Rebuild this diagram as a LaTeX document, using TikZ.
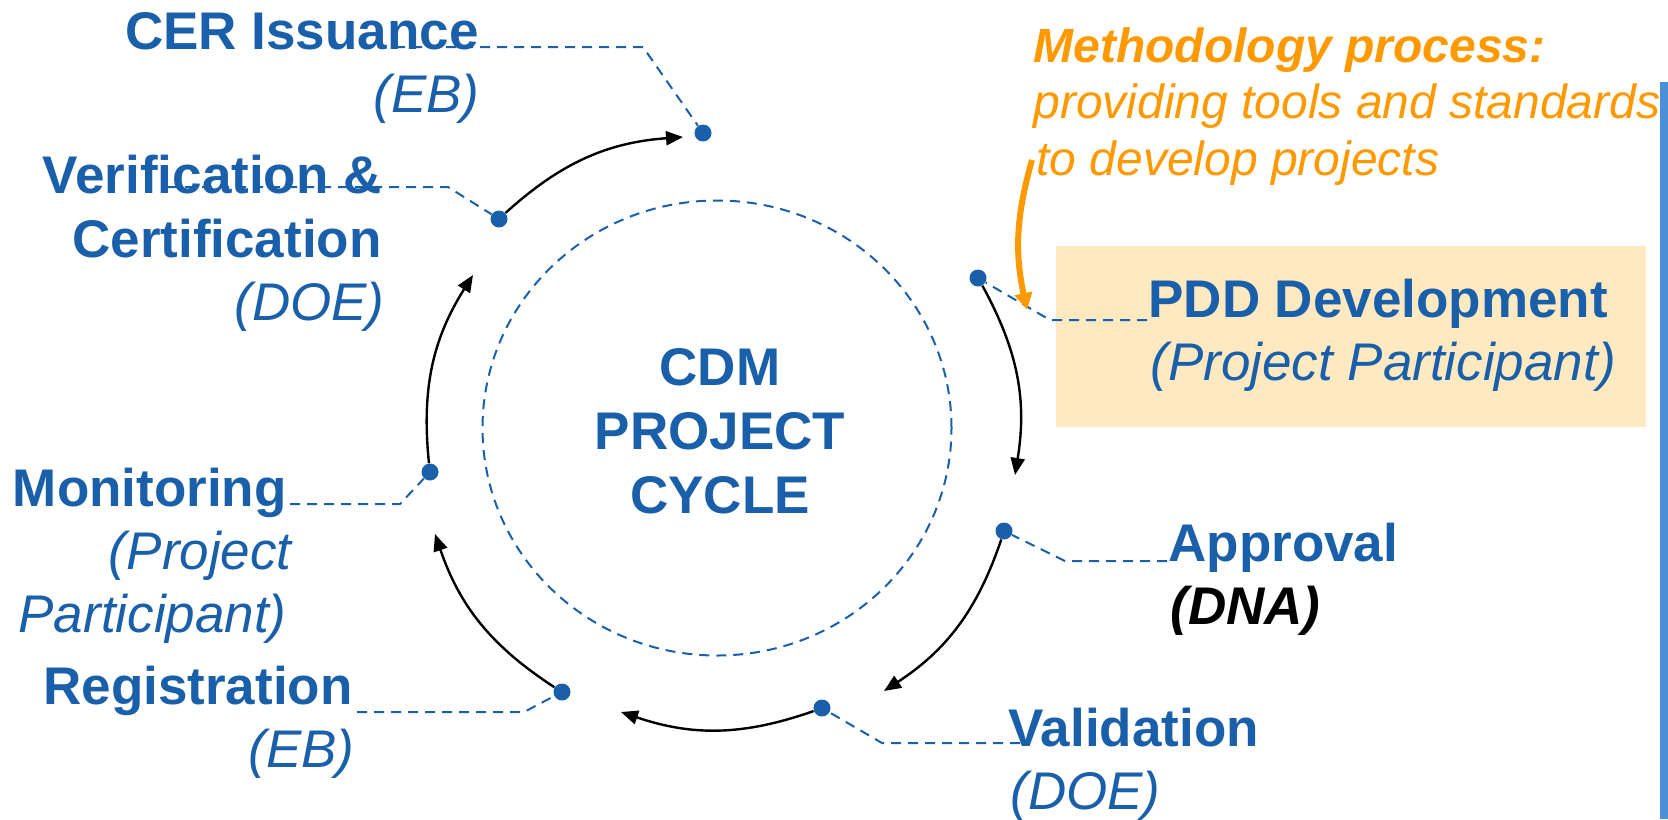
\documentclass[tikz,border=0pt]{standalone}
\usepackage{fontspec}
\setmainfont{Liberation Sans}
\usetikzlibrary{arrows.meta,shapes.geometric}
\definecolor{cdmblue}{RGB}{26,95,170}
\definecolor{cdmorange}{RGB}{255,153,0}
\definecolor{peach}{RGB}{255,233,193}
\definecolor{barblue}{RGB}{74,144,217}
\begin{document}
\begin{tikzpicture}[x=0.5pt,y=0.5pt,
  dot/.style={circle,fill=cdmblue,inner sep=0pt,minimum size=8.5pt},
  leader/.style={draw=cdmblue,line width=1pt,dash pattern=on 5pt off 3.5pt},
  cyc/.style={draw=black,line width=1.2pt,-{Triangle[length=8.5pt,width=7pt]}},
  oarrow/.style={draw=cdmorange,line width=3pt,-{Triangle[length=8.5pt,width=8.5pt]}},
  lbl/.style={inner sep=0pt,text=cdmblue,font=\fontsize{26.5}{31.8}\selectfont\bfseries},
  sub/.style={inner sep=0pt,text=cdmblue,font=\fontsize{26.5}{31.8}\selectfont\itshape},
  olbl/.style={inner sep=0pt,text=cdmorange,font=\fontsize{24}{28.8}\selectfont\itshape},
]
\useasboundingbox (0,0) rectangle (1668,-819);
% background elements
\fill[peach] (1056,-246) rectangle (1646,-427);
\fill[barblue] (1660,-82) rectangle (1668,-819);

% central dashed circle
\node[draw=cdmblue,line width=1pt,dash pattern=on 5pt off 3.5pt,ellipse,
      minimum width=234.5pt,minimum height=227.5pt,inner sep=0pt] (ring) at (717,-428) {};
\node[inner sep=0pt,text=cdmblue,align=center,
      font=\fontsize{26.5}{32}\selectfont\bfseries] (title) at (720,-431.5)
      {CDM\\PROJECT\\CYCLE};

% dots
\node[dot] (dcer)  at (703,-133) {};
\node[dot] (dver)  at (499,-219) {};
\node[dot] (dmon)  at (430,-472) {};
\node[dot] (dreg)  at (562,-692) {};
\node[dot] (dval)  at (822,-708) {};
\node[dot] (dapp)  at (1004,-531) {};
\node[dot] (dpdd)  at (978,-278) {};

% leader line coordinates
\coordinate (cerA) at (395,-47);   \coordinate (cerB) at (643,-47);
\coordinate (verA) at (168,-187);  \coordinate (verB) at (448,-187);
\coordinate (monA) at (290,-504);  \coordinate (monB) at (400,-504);
\coordinate (regA) at (357,-712);  \coordinate (regB) at (524,-712);
\coordinate (valA) at (1020,-743); \coordinate (valB) at (882,-743);
\coordinate (appA) at (1167,-561); \coordinate (appB) at (1065,-561);
\coordinate (pddA) at (1147,-320); \coordinate (pddB) at (1050,-320);

\draw[leader] (cerA) -- (cerB) -- (dcer);
\draw[leader] (verA) -- (verB) -- (dver);
\draw[leader] (monA) -- (monB) -- (dmon);
\draw[leader] (regA) -- (regB) -- (dreg);
\draw[leader] (valA) -- (valB) -- (dval);
\draw[leader] (appA) -- (appB) -- (dapp);
\draw[leader] (pddA) -- (pddB) -- (dpdd);

% arrow tips
\coordinate (tcer) at (683,-137);
\coordinate (tver) at (473,-275);
\coordinate (tmon) at (435,-534);
\coordinate (treg) at (621,-712);
\coordinate (tval) at (884,-691);
\coordinate (tapp) at (1015,-475);

\draw[cyc] (dver) to[bend left=19] (tcer);
\draw[cyc] (dpdd) to[bend left=19] (tapp);
\draw[cyc] (dapp) to[bend left=19] (tval);
\draw[cyc] (dval) to[bend left=19] (treg);
\draw[cyc] (dreg) to[bend left=19] (tmon);
\draw[cyc] (dmon) to[bend left=19] (tver);

% labels
\node[lbl,anchor=base east] (lcer) at (479,-49) {CER Issuance};
\node[sub,anchor=base east] (lcer2) at (480,-112) {(EB)};
\node[lbl,anchor=base east] (lver) at (382,-193) {Verification \&};
\node[lbl,anchor=base east] (lver2) at (382,-257) {Certification};
\node[sub,anchor=base east] (lver3) at (385,-320) {(DOE)};
\node[lbl,anchor=base east] (lmon) at (287,-506) {Monitoring};
\node[sub,anchor=base east] (lmon2) at (292,-569) {(Project};
\node[sub,anchor=base east] (lmon3) at (287,-632) {Participant)};
\node[lbl,anchor=base east] (lreg) at (353,-704) {Registration};
\node[sub,anchor=base east] (lreg2) at (355,-767) {(EB)};
\node[lbl,anchor=base west] (lpdd) at (1148,-317) {PDD Development};
\node[sub,anchor=base west] (lpdd2) at (1150,-380) {(Project Participant)};
\node[lbl,anchor=base west] (lapp) at (1168,-561) {Approval};
\node[inner sep=0pt,text=black,font=\fontsize{26.5}{31.8}\selectfont\bfseries\itshape,anchor=base west] (lapp2) at (1170,-624) {(DNA)};
\node[lbl,anchor=base west] (lval) at (1008,-746) {Validation};
\node[sub,anchor=base west] (lval2) at (1010,-809) {(DOE)};

% methodology note
\node[olbl,font=\fontsize{24}{28.8}\selectfont\bfseries\itshape,anchor=base west] (meth1) at (1033,-62) {Methodology process:};
\node[olbl,anchor=base west] (meth2) at (1033,-118) {providing tools and standards};
\node[olbl,anchor=base west] (meth3) at (1036,-175) {to develop projects};
\coordinate (mstart) at (1032,-160);
\coordinate (mtip) at (1027,-310);
\draw[oarrow] (mstart) to[bend right=14] (mtip);
\end{tikzpicture}
\end{document}
